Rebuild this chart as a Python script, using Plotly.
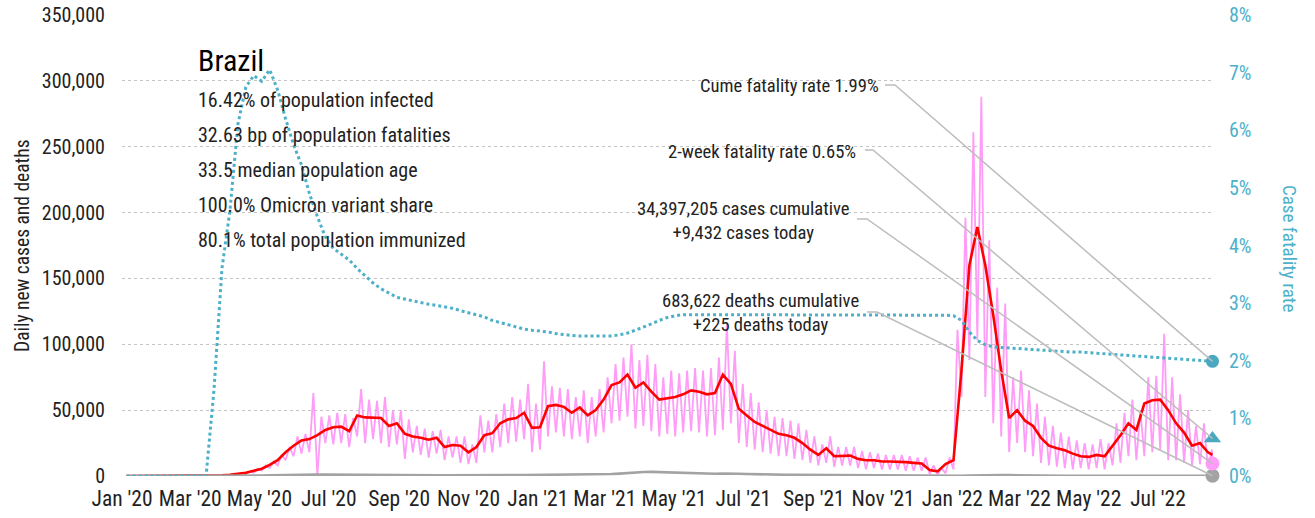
import pandas as pd
import plotly.graph_objects as go

# ---------------------------------------------------------------- data
country = "Brazil"
stats = [
    "16.42% of population infected",
    "32.63 bp of population fatalities",
    "33.5 median population age",
    "100.0% Omicron variant share",
    "80.1% total population immunized",
]

last_date = pd.Timestamp("2022-08-18")
cases_cumulative = 34397205
cases_today = 9432
deaths_cumulative = 683622
deaths_today = 225
cume_fatality_rate = 1.99      # %
two_week_fatality_rate = 0.65  # %

# weekly dates (Sundays) for the smoothed series
week_dates = pd.date_range("2020-01-05", periods=137, freq="7D")

# 7-day average of new cases, thousands
cases_avg_k = [
    0, 0, 0, 0, 0, 0, 0, 0, 0, 0,
    0.1, 0.3, 0.5, 1.0, 1.5, 2.5, 4.0, 5.5, 8.5, 12,
    18, 23, 27, 28, 31, 35, 37, 37.5, 34, 46,
    44.5, 44, 44, 38, 40, 32, 30, 29, 27.5, 29,
    22, 23.5, 23, 18, 22, 31, 32.5, 40, 43, 44,
    48, 36.5, 37, 53, 54, 52.5, 48, 52, 46, 50,
    58, 69, 71, 77, 67, 71, 64, 58, 59, 60,
    62, 65, 64, 62, 63, 77, 70, 51, 46, 41,
    38, 35, 32, 31, 29, 25, 20, 16, 21, 15,
    15.5, 15.5, 13, 12, 12, 11, 11, 11, 10.5, 10,
    9.5, 4.5, 3.5, 9, 12, 80, 160, 189, 160, 122,
    80, 44, 50, 42, 38, 29, 23, 21, 19.5, 17,
    15, 14.5, 16, 15, 23, 31, 40, 35, 55, 57.5,
    58, 50, 40, 33, 23, 25, 18,
]
cases_avg_last_k = 16

# reported daily cases, thousands: (weekend low, midweek high) per week
cases_daily_k = [
    (0, 0), (0, 0), (0, 0), (0, 0), (0, 0), (0, 0), (0, 0), (0, 0), (0, 0), (0, 0),
    (0.1, 0.2), (0.2, 0.4), (0.3, 0.7), (0.7, 1.3), (1.0, 2.0), (1.5, 3.5), (2.5, 5.5), (4, 8), (6, 11), (8, 16),
    (12, 22), (15, 30), (17, 32), (18, 63), (0, 45), (25, 46), (24, 48), (25, 47), (22, 44), (30, 66),
    (25, 58), (28, 57), (25, 60), (22, 50), (24, 50), (13, 43), (18, 38), (16, 36), (14, 34), (17, 35),
    (12, 30), (14, 30), (10, 30), (9, 24), (10, 46), (18, 42), (18, 47), (22, 55), (25, 60), (26, 58),
    (28, 70), (18, 55), (20, 87), (30, 68), (33, 67), (30, 66), (28, 60), (30, 65), (25, 60), (30, 66),
    (33, 75), (40, 85), (42, 90), (45, 100), (36, 88), (38, 92), (34, 85), (30, 75), (32, 80), (30, 78),
    (33, 80), (34, 82), (33, 80), (30, 82), (31, 90), (35, 115), (40, 95), (25, 70), (22, 63), (20, 56),
    (18, 50), (17, 45), (15, 44), (15, 42), (13, 40), (12, 35), (10, 30), (8, 24), (10, 30), (7, 22),
    (8, 22), (8, 22), (6, 19), (5, 18), (6, 17), (5, 16), (5, 16), (5, 16), (4, 15), (4, 14),
    (4, 14), (1.5, 8), (1, 6), (2, 14), (5, 111), (60, 196), (88, 261), (103, 288), (60, 179), (40, 143),
    (30, 131), (18, 75), (25, 80), (18, 65), (15, 55), (10, 45), (8, 38), (7, 33), (6, 30), (5, 27),
    (6, 25), (5, 24), (6, 28), (5, 25), (8, 40), (10, 48), (15, 58), (12, 50), (15, 75), (18, 76),
    (20, 108), (12, 75), (12, 62), (10, 50), (8, 38), (9, 40), (6, 20),
]

# 7-day average of new deaths
deaths_avg = [
    0, 0, 0, 0, 0, 0, 0, 0, 0, 0,
    0, 5, 20, 60, 120, 180, 300, 420, 600, 750,
    850, 950, 1000, 1000, 1020, 1030, 1040, 1050, 1060, 1040,
    1030, 1000, 980, 900, 850, 800, 750, 700, 650, 600,
    550, 500, 450, 400, 350, 400, 480, 550, 600, 650,
    700, 720, 750, 1000, 1050, 1050, 1080, 1050, 1050, 1100,
    1200, 1500, 1800, 2300, 2700, 3000, 3100, 2900, 2700, 2400,
    2200, 2000, 1900, 1850, 1700, 1800, 2000, 1700, 1500, 1300,
    1200, 1100, 1000, 900, 850, 800, 700, 600, 550, 550,
    500, 450, 400, 380, 350, 320, 280, 250, 230, 220,
    200, 150, 120, 100, 110, 150, 300, 500, 700, 850,
    800, 650, 500, 400, 300, 250, 200, 150, 120, 110,
    100, 100, 100, 110, 120, 130, 150, 180, 200, 220,
    250, 250, 240, 230, 210, 200, 190,
]

# cumulative case fatality rate, %
cfr_pct = [
    0, 0, 0, 0, 0, 0, 0, 0, 0, 0,
    0, 1.5, 3.6, 4.6, 6.1, 6.75, 6.95, 6.85, 7.05, 6.7,
    6.2, 5.75, 5.4, 4.9, 4.5, 4.15, 3.95, 3.85, 3.75, 3.6,
    3.47, 3.35, 3.25, 3.17, 3.1, 3.07, 3.04, 3.0, 2.98, 2.96,
    2.94, 2.91, 2.87, 2.83, 2.8, 2.76, 2.7, 2.66, 2.62, 2.58,
    2.55, 2.53, 2.52, 2.5, 2.47, 2.45, 2.44, 2.43, 2.43, 2.42,
    2.42, 2.43, 2.45, 2.48, 2.53, 2.58, 2.64, 2.7, 2.75, 2.78,
    2.8, 2.8, 2.8, 2.8, 2.8, 2.8, 2.8, 2.8, 2.8, 2.8,
    2.8, 2.8, 2.8, 2.8, 2.8, 2.8, 2.8, 2.8, 2.8, 2.8,
    2.8, 2.8, 2.8, 2.8, 2.8, 2.8, 2.8, 2.8, 2.8, 2.8,
    2.8, 2.8, 2.8, 2.79, 2.78, 2.7, 2.5, 2.35, 2.28, 2.24,
    2.23, 2.22, 2.21, 2.2, 2.19, 2.18, 2.17, 2.17, 2.16, 2.15,
    2.15, 2.14, 2.14, 2.13, 2.12, 2.11, 2.1, 2.09, 2.07, 2.06,
    2.05, 2.04, 2.03, 2.02, 2.01, 2.0, 1.995,
]

# ---------------------------------------------------------------- style
FONT = "Roboto Condensed, DejaVu Sans Condensed, sans-serif"
INK = "#222222"
TEAL = "#4db0c9"
TEAL_MARK = "#4aa8c0"
PINK = "#ff9cf7"
RED = "#ff0000"
GRAY = "#a3a3a3"
LEADER = "#bdbdbd"

W, H = 1315, 518
ML, MR, MT, MB = 122, 101, 15, 42
PW, PH = W - ML - MR, H - MT - MB

x_start = pd.Timestamp("2020-01-01")
x_end = pd.Timestamp("2022-08-19 08:00")
Y_MAX = 350000
Y2_MAX = 8


def paper_x(px):
    return (px - ML) / PW


def paper_y(py):
    return (H - MB - py) / PH


def date_to_paper(d):
    return (d - x_start) / (x_end - x_start)


# ---------------------------------------------------------------- series
half_week = pd.date_range("2020-01-05", periods=2 * len(cases_daily_k), freq="84h")
raw_x = list(half_week) + [last_date]
raw_y = [v * 1000 for pair in cases_daily_k for v in pair] + [cases_today]

avg_x = list(week_dates) + [last_date]
avg_y = [v * 1000 for v in cases_avg_k] + [cases_avg_last_k * 1000]
deaths_y = deaths_avg + [deaths_today]
cfr_y = cfr_pct + [cume_fatality_rate]

fig = go.Figure()
fig.add_trace(go.Scatter(x=raw_x, y=raw_y, mode="lines",
                         line=dict(color=PINK, width=1.8), hoverinfo="skip"))
fig.add_trace(go.Scatter(x=avg_x, y=avg_y, mode="lines",
                         line=dict(color=RED, width=2.6), hoverinfo="skip"))
fig.add_trace(go.Scatter(x=avg_x, y=deaths_y, mode="lines",
                         line=dict(color=GRAY, width=2.6), hoverinfo="skip"))
fig.add_trace(go.Scatter(x=avg_x, y=cfr_y, mode="lines", yaxis="y2",
                         line=dict(color=TEAL, width=3, dash="dot"), hoverinfo="skip"))

# end-of-series markers
fig.add_trace(go.Scatter(x=[last_date], y=[deaths_today], mode="markers", cliponaxis=False,
                         marker=dict(color=GRAY, size=14), hoverinfo="skip"))
fig.add_trace(go.Scatter(x=[last_date], y=[cases_today], mode="markers", cliponaxis=False,
                         marker=dict(color=PINK, size=14), hoverinfo="skip"))
fig.add_trace(go.Scatter(x=[last_date], y=[cume_fatality_rate], mode="markers", yaxis="y2",
                         cliponaxis=False,
                         marker=dict(color=TEAL_MARK, size=13), hoverinfo="skip"))
fig.add_trace(go.Scatter(x=[last_date], y=[two_week_fatality_rate], mode="markers", yaxis="y2",
                         cliponaxis=False,
                         marker=dict(color=TEAL_MARK, size=15, symbol="triangle-up"),
                         hoverinfo="skip"))

# ---------------------------------------------------------------- text
annotations = []
annotations.append(dict(x=paper_x(196), y=paper_y(60), xref="paper", yref="paper",
                        text=country, showarrow=False, xanchor="left", yanchor="middle",
                        font=dict(family=FONT, size=30, color="#000000")))
for i, line in enumerate(stats):
    annotations.append(dict(x=paper_x(196), y=paper_y(100 + 35 * i), xref="paper", yref="paper",
                            text=line, showarrow=False, xanchor="left", yanchor="middle",
                            font=dict(family=FONT, size=20, color=INK)))

mx = date_to_paper(last_date)
callouts = [
    # text, text right edge px, text centre y px, stub start px, stub end px, stub y px, target y (paper)
    (f"Cume fatality rate {cume_fatality_rate:.2f}%", 881, 86, 885, 895, 85,
     cume_fatality_rate / Y2_MAX),
    (f"2-week fatality rate {two_week_fatality_rate:.2f}%", 858, 152, 865, 873, 150,
     two_week_fatality_rate / Y2_MAX),
    (f"{cases_cumulative:,} cases cumulative<br>+{cases_today:,} cases today", 852, 221,
     857, 867, 219, cases_today / Y_MAX),
    (f"{deaths_cumulative:,} deaths cumulative<br>+{deaths_today:,} deaths today", 861, 313,
     867, 877, 312, deaths_today / Y_MAX),
]
shapes = []
for text, tx, ty, s0, s1, sy, target in callouts:
    annotations.append(dict(x=paper_x(tx), y=paper_y(ty), xref="paper", yref="paper",
                            text=text, showarrow=False, xanchor="right", yanchor="middle",
                            align="center", font=dict(family=FONT, size=18.6, color=INK)))
    shapes.append(dict(type="path", xref="paper", yref="paper",
                       path=f"M {paper_x(s0)},{paper_y(sy)} L {paper_x(s1)},{paper_y(sy)} "
                            f"L {mx},{target}",
                       line=dict(color=LEADER, width=1.5), layer="above"))

# axis titles
annotations.append(dict(x=paper_x(22), y=paper_y(246), xref="paper", yref="paper",
                        text="Daily new cases and deaths", showarrow=False, textangle=-90,
                        xanchor="center", yanchor="middle",
                        font=dict(family=FONT, size=19.5, color=INK)))
annotations.append(dict(x=paper_x(1290), y=paper_y(248), xref="paper", yref="paper",
                        text="Case fatality rate", showarrow=False, textangle=90,
                        xanchor="center", yanchor="middle",
                        font=dict(family=FONT, size=19, color=TEAL)))

fig.update_layout(
    width=W, height=H,
    margin=dict(l=ML, r=MR, t=MT, b=MB, pad=0, autoexpand=False),
    paper_bgcolor="white", plot_bgcolor="white",
    showlegend=False,
    font=dict(family=FONT, color=INK),
    xaxis=dict(range=[x_start, x_end], type="date", dtick="M2", tick0="2020-01-01",
               tickformat="%b '%y", showgrid=False, zeroline=False, showline=False,
               ticks="", tickfont=dict(family=FONT, size=21.5, color=INK),
               ticklabelstandoff=7, automargin=False),
    yaxis=dict(range=[0, Y_MAX], dtick=50000, tickformat=",d", showgrid=True,
               gridcolor="#c4c4c4", griddash="dot", gridwidth=1.2, zeroline=False,
               showline=False, ticks="", tickfont=dict(family=FONT, size=20, color=INK),
               ticklabelstandoff=16, automargin=False),
    yaxis2=dict(range=[0, Y2_MAX], dtick=1, ticksuffix="%", overlaying="y", side="right",
                showgrid=False, zeroline=False, showline=False, ticks="",
                tickfont=dict(family=FONT, size=20, color=TEAL), ticklabelstandoff=14,
                automargin=False),
    annotations=annotations,
    shapes=shapes,
)

fig.write_html("out.html")
